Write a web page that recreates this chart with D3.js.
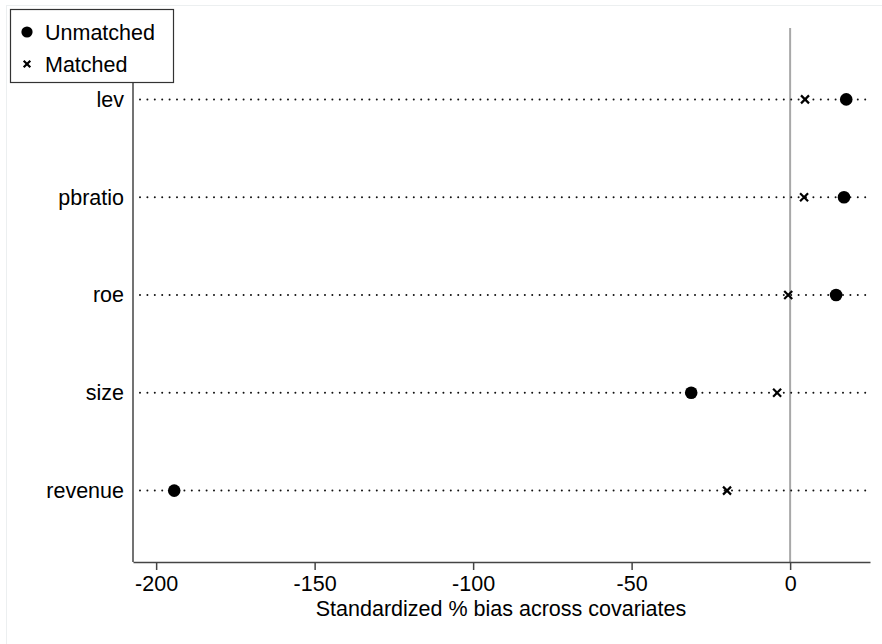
<!DOCTYPE html>
<html>
<head>
<meta charset="utf-8">
<script src="https://cdn.jsdelivr.net/npm/d3@7"></script>
<style>
  body { margin: 0; background: #fff; }
  svg { display: block; font-family: "Liberation Sans", Arial, Helvetica, sans-serif; }
</style>
</head>
<body>
<svg id="chart" width="882" height="644"></svg>
<script>
const variables = ["lev", "pbratio", "roe", "size", "revenue"];
const unmatched = [17.7, 17.0, 14.5, -31.2, -194.3];
const matched = [4.7, 4.4, -0.6, -4.1, -19.9];
const xTicks = [-200, -150, -100, -50, 0];

const svg = d3.select("#chart");
const plotLeft = 133, plotRight = 870, plotTop = 28, plotBottom = 562;
const fontSize = 21.5;

// faint outer frame
svg.append("rect")
  .attr("x", 6.5).attr("y", 5.5)
  .attr("width", 880).attr("height", 650)
  .attr("fill", "none")
  .attr("stroke", "#eceff0");

const x = d3.scaleLinear().domain([-207.3, 25.2]).range([plotLeft, plotRight]);
const y = d3.scalePoint().domain(variables).range([plotTop, plotBottom]).padding(0.73);

// zero reference line
svg.append("line")
  .attr("x1", x(0)).attr("x2", x(0))
  .attr("y1", plotTop).attr("y2", plotBottom)
  .attr("stroke", "#a8a8a8")
  .attr("stroke-width", 2);

// dotted guide lines
svg.append("g")
  .selectAll("line")
  .data(variables)
  .join("line")
  .attr("x1", plotLeft + 7).attr("x2", plotRight - 3)
  .attr("y1", (d) => y(d)).attr("y2", (d) => y(d))
  .attr("stroke", "#111")
  .attr("stroke-width", 2)
  .attr("stroke-linecap", "round")
  .attr("stroke-dasharray", "0,7.4");

// axes
const xAxis = svg.append("g")
  .attr("transform", `translate(0,${plotBottom})`)
  .call(d3.axisBottom(x).tickValues(xTicks).tickFormat((d) => String(d))
    .tickSize(8).tickPadding(6).tickSizeOuter(0));
xAxis.select(".domain").attr("stroke", "#444").attr("stroke-width", 1.5);
xAxis.selectAll(".tick line").attr("stroke", "#444").attr("stroke-width", 1.5);
xAxis.selectAll(".tick text").attr("font-size", fontSize).attr("fill", "#000")
  .attr("font-family", "Liberation Sans, Arial, sans-serif");

const yAxis = svg.append("g")
  .attr("transform", `translate(${plotLeft},0)`)
  .call(d3.axisLeft(y).tickSize(0).tickPadding(9));
yAxis.select(".domain").attr("d", `M0,${plotTop}V${plotBottom}`).attr("stroke", "#444").attr("stroke-width", 1.5);
yAxis.selectAll(".tick text").attr("font-size", fontSize).attr("fill", "#000")
  .attr("font-family", "Liberation Sans, Arial, sans-serif");

svg.append("text")
  .attr("x", 501).attr("y", 616)
  .attr("text-anchor", "middle")
  .attr("font-size", fontSize)
  .text("Standardized % bias across covariates");

// markers
function cross(sel, cx, cy, h) {
  sel.append("path")
    .attr("d", `M${cx - h},${cy - h}L${cx + h},${cy + h}M${cx - h},${cy + h}L${cx + h},${cy - h}`)
    .attr("stroke", "#000")
    .attr("stroke-width", 2.2)
    .attr("fill", "none");
}

svg.append("g")
  .selectAll("circle")
  .data(variables)
  .join("circle")
  .attr("cx", (d, i) => x(unmatched[i]))
  .attr("cy", (d) => y(d))
  .attr("r", 6.3)
  .attr("fill", "#000");

const crosses = svg.append("g");
variables.forEach((v, i) => cross(crosses, x(matched[i]), y(v), 4));

// legend
const legend = svg.append("g");
legend.append("rect")
  .attr("x", 10.5).attr("y", 9.5)
  .attr("width", 163).attr("height", 73)
  .attr("fill", "#fff")
  .attr("stroke", "#333")
  .attr("stroke-width", 1.2);
legend.append("circle").attr("cx", 27).attr("cy", 32).attr("r", 5.6).attr("fill", "#000");
cross(legend, 27, 64, 3.3);
legend.append("text").attr("x", 45).attr("y", 40).attr("font-size", fontSize).text("Unmatched");
legend.append("text").attr("x", 45).attr("y", 72).attr("font-size", fontSize).text("Matched");
</script>
</body>
</html>
